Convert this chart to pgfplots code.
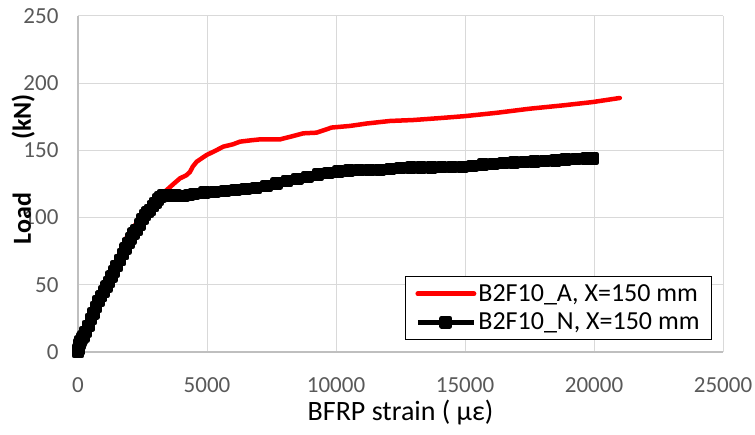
\documentclass[border=0pt]{standalone}
\usepackage{fontspec}
\setmainfont{Carlito}
\usepackage{pgfplots}
\pgfplotsset{compat=1.18}
\definecolor{tickgray}{HTML}{595959}
\definecolor{gridgray}{HTML}{D9D9D9}
\definecolor{axgray}{HTML}{BFBFBF}

\begin{document}
\begin{tikzpicture}[x=1pt,y=1pt]
\useasboundingbox (-78,-82) rectangle (677,352);
\begin{axis}[
  at={(0,0)}, anchor=south west,
  scale only axis, width=645pt, height=336pt,
  xmin=0, xmax=25000, ymin=0, ymax=250,
  xtick={0,5000,10000,15000,20000,25000},
  ytick={0,50,100,150,200,250},
  scaled x ticks=false,
  /pgf/number format/1000 sep={},
  /pgf/number format/assume math mode=true,
  grid=major,
  major grid style={draw=gridgray, line width=1pt},
  axis lines*=left,
  axis line style={draw=axgray, line width=1.2pt, -},
  tick style={draw=none},
  tick label style={font=\fontsize{23}{25}\selectfont, text=tickgray},
  xticklabel style={yshift=-22pt},
  yticklabel style={xshift=-16pt},
  xlabel={BFRP strain ( με)},
  xlabel style={at={(axis description cs:0.5,-0.18)}, anchor=center,
    font=\fontsize{28}{30}\selectfont},
  ylabel={Load\hspace{53pt}(kN)},
  ylabel style={at={(axis description cs:-0.085,0.544)}, anchor=center,
    font=\bfseries\fontsize{26}{28}\selectfont},
  legend style={at={(0.983,0.036)}, anchor=south east, draw=black,
    line width=1pt, font=\fontsize{26}{30}\selectfont,
    inner xsep=10pt, inner ysep=6pt, row sep=6pt},
  legend cell align=left,
  legend image code/.code={\draw[mark repeat=2,mark phase=2,#1] plot coordinates {(0pt,0pt)(28pt,0pt)(56pt,0pt)};},
]
\addplot[color=red, line width=4.5pt, line join=round, line cap=round,
  legend image post style={line width=5pt}] coordinates {
  (0,0)(10,4)(40,8)(100,12)(200,17)(300,21)(420,25)(540,30)(650,35)
  (800,41)(950,47)(1100,53)(1250,59)(1400,65)(1550,71)(1700,77)(1850,84)
  (2000,89)(2200,94)(2400,100)(2600,104)(2800,109)(3000,113)(3200,117)
  (3438,120.5)(3700,125)(3953,129.2)(4200,131.5)(4341,134)(4450,138)
  (4600,141.6)(4988,146.6)(5300,149.5)(5633,152.8)(6000,154.5)(6279,156.5)
  (6700,157.5)(7054,158.2)(7829,158.2)(8300,160.5)(8733,162.7)(9250,163.2)
  (9832,167)(10543,168.2)(11189,170)(12093,171.9)(12990,172.6)(14000,174)
  (15000,175.5)(16240,178)(17500,181)(18800,183.5)(19960,186)(21000,189)
};
\addlegendentry{B2F10\_A, X=150 mm}

\addplot[color=black, line width=4.5pt, line join=round, mark=square*, mark size=4pt,
  legend image post style={line width=5pt}] coordinates {
  (0,0)(10,2)(30,4)(60,6)(100,8)(150,10)(207,11.4)(300,15)(400,19.5)
  (500,24.5)(594,28.8)(700,33.5)(800,38)(900,41.5)(1000,45)(1110,48.6)
  (1200,52)(1300,56)(1400,60)(1500,64)(1628,68.5)(1750,73)(1850,77)
  (1950,81)(2050,84.5)(2150,88)(2274,90.8)(2400,95)(2500,99)(2600,102)
  (2700,104)(2791,105.7)(2900,108.5)(3000,111)(3100,113.5)(3200,115.5)
  (3307,116.8)(3450,116.8)(3600,116.5)(3800,116.3)(4082,116)(4300,116.8)
  (4500,117.5)(4900,118.5)(5300,119.2)(5700,119.8)(6100,120.5)(6500,121.2)
  (6900,122)(7300,123.5)(7700,125.5)(8100,127.2)(8500,128.8)(8900,130.3)
  (9300,132)(9700,133.2)(10100,134.2)(10500,135)(10900,135.3)(11300,135.4)
  (11700,135.5)(12100,136)(12500,137)(12900,137.2)(13300,137.3)(13700,137.4)
  (14100,137.5)(14500,137.6)(14900,137.8)(15300,138.5)(15700,139.5)
  (16100,140)(16500,140.5)(16900,141)(17300,141.4)(17700,141.8)(18100,142.2)
  (18500,142.6)(18900,143.3)(19300,143.6)(19700,143.8)(19960,144)
};
\addlegendentry{B2F10\_N, X=150 mm}
\end{axis}
\end{tikzpicture}
\end{document}
